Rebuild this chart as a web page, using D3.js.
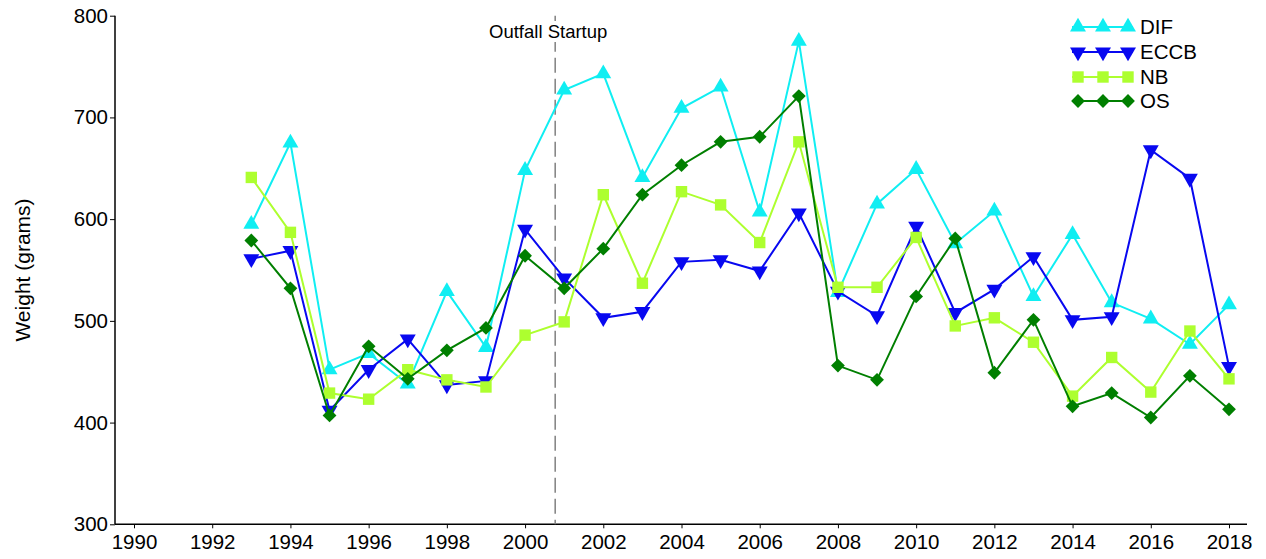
<!DOCTYPE html>
<html>
<head>
<meta charset="utf-8">
<script src="https://cdn.jsdelivr.net/npm/d3@7"></script>
<style>
  html, body { margin: 0; padding: 0; background: #fff; }
  svg { display: block; font-family: Arial, "Liberation Sans", sans-serif; }
</style>
</head>
<body>
<svg id="chart" width="1266" height="559"></svg>
<script>
// ---- data ----
const years = [1993,1994,1995,1996,1997,1998,1999,2000,2001,2002,2003,2004,2005,2006,2007,2008,2009,2010,2011,2012,2013,2014,2015,2016,2017,2018];
const DIF  = [595,675,452,468,438,529,474,648,727,743,641,709,730,607,775,528,615,649,576,608,524,585,518,502,477,516];
const ECCB = [561,569,412,452,482,437,441,590,542,503,509,558,560,549,606,529,505,593,508,531,563,501,504,668,640,455];
const NB   = [641,587,429,423,452,442,435,486,499,624,537,627,614,577,676,533,533,582,495,503,479,426,464,430,490,443];
const OS   = [579,532,407,475,443,471,493,564,532,571,624,653,676,681,721,456,442,524,581,449,501,416,429,405,446,413];
const seriesNames = ["DIF","ECCB","NB","OS"];
const seriesValues = [DIF, ECCB, NB, OS];
const xTicks = [1990,1992,1994,1996,1998,2000,2002,2004,2006,2008,2010,2012,2014,2016,2018];
const yTicks = [300,400,500,600,700,800];
const startupYear = 2000.77;
const startupLabel = "Outfall Startup";
const yLabel = "Weight (grams)";

// ---- styles ----
const colors = {DIF:"#10eef2", ECCB:"#0808f0", NB:"#adff2f", OS:"#007f00"};
const symbols = {
  DIF:  {type: d3.symbolTriangle, size: 110, rot: 0},
  ECCB: {type: d3.symbolTriangle, size: 110, rot: 180},
  NB:   {type: d3.symbolSquare,   size: 130, rot: 0},
  OS:   {type: d3.symbolSquare,   size: 95,  rot: 45}
};

const svg = d3.select("#chart");
const x = d3.scaleLinear().domain([1990, 2018]).range([134, 1229]);
const y = d3.scaleLinear().domain([300, 800]).range([524.3, 15.7]);
const x0 = 115, x1 = 1247;
const tickFont = 20.5;

// axes
const gx = svg.append("g").attr("transform", `translate(0,${y(300)})`);
gx.append("line").attr("x1", x0).attr("x2", x1).attr("stroke", "#000").attr("stroke-width", 1.5);
const xAxis = d3.axisBottom(x).tickValues(xTicks).tickFormat(d3.format("d")).tickSize(4).tickPadding(6);
gx.call(xAxis);
gx.select(".domain").remove();
gx.selectAll(".tick line").attr("stroke", "#000").attr("stroke-width", 1);
gx.selectAll(".tick text").attr("font-size", tickFont).attr("fill", "#000").attr("font-family", "Arial, 'Liberation Sans', sans-serif");

const gy = svg.append("g").attr("transform", `translate(${x0},0)`);
gy.append("line").attr("y1", y(800)).attr("y2", y(300)).attr("stroke", "#000").attr("stroke-width", 1.5);
const yAxis = d3.axisLeft(y).tickValues(yTicks).tickSize(5).tickPadding(2);
gy.call(yAxis);
gy.select(".domain").remove();
gy.selectAll(".tick line").attr("stroke", "#000").attr("stroke-width", 1);
gy.selectAll(".tick text").attr("font-size", tickFont).attr("fill", "#000").attr("font-family", "Arial, 'Liberation Sans', sans-serif");

// y label
svg.append("text")
  .attr("transform", `translate(30,${(y(800)+y(300))/2}) rotate(-90)`)
  .attr("text-anchor", "middle")
  .attr("font-size", 21)
  .attr("fill", "#000")
  .text(yLabel);

// startup line
svg.append("line")
  .attr("x1", x(startupYear)).attr("x2", x(startupYear))
  .attr("y1", y(800)).attr("y2", y(300))
  .attr("stroke", "#808080").attr("stroke-width", 1.5)
  .attr("stroke-dasharray", "15,6");
const lblBg = svg.append("rect").attr("fill", "#fff");
const lbl = svg.append("text")
  .attr("x", x(startupYear) - 7).attr("y", 38)
  .attr("text-anchor", "middle")
  .attr("font-size", 18.5)
  .attr("fill", "#000")
  .text(startupLabel);
const bb = lbl.node().getBBox();
lblBg.attr("x", bb.x - 2).attr("y", bb.y).attr("width", bb.width + 4).attr("height", bb.height);

// series
const line = d3.line().x(d => x(d[0])).y(d => y(d[1]));
seriesNames.forEach((name, i) => {
  const pts = years.map((yr, j) => [yr, seriesValues[i][j]]);
  const g = svg.append("g");
  g.append("path").datum(pts).attr("d", line)
    .attr("fill", "none").attr("stroke", colors[name]).attr("stroke-width", 2);
  const s = symbols[name];
  const sym = d3.symbol().type(s.type).size(s.size);
  g.selectAll("path.m").data(pts).enter().append("path").attr("class", "m")
    .attr("d", sym)
    .attr("transform", d => `translate(${x(d[0])},${y(d[1])}) rotate(${s.rot})`)
    .attr("fill", colors[name]);
});

// legend
const legY = [27, 52, 77, 101];
seriesNames.forEach((name, i) => {
  const g = svg.append("g").attr("transform", `translate(0,${legY[i]})`);
  g.append("line").attr("x1", 1072).attr("x2", 1133).attr("stroke", colors[name]).attr("stroke-width", 2);
  const s = symbols[name];
  const sym = d3.symbol().type(s.type).size(s.size);
  [1078, 1103, 1128].forEach(mx => {
    g.append("path").attr("d", sym)
      .attr("transform", `translate(${mx},0) rotate(${s.rot})`)
      .attr("fill", colors[name]);
  });
  g.append("text").attr("x", 1140).attr("y", 7).attr("font-size", 20.5).attr("fill", "#000").text(name);
});
</script>
</body>
</html>
